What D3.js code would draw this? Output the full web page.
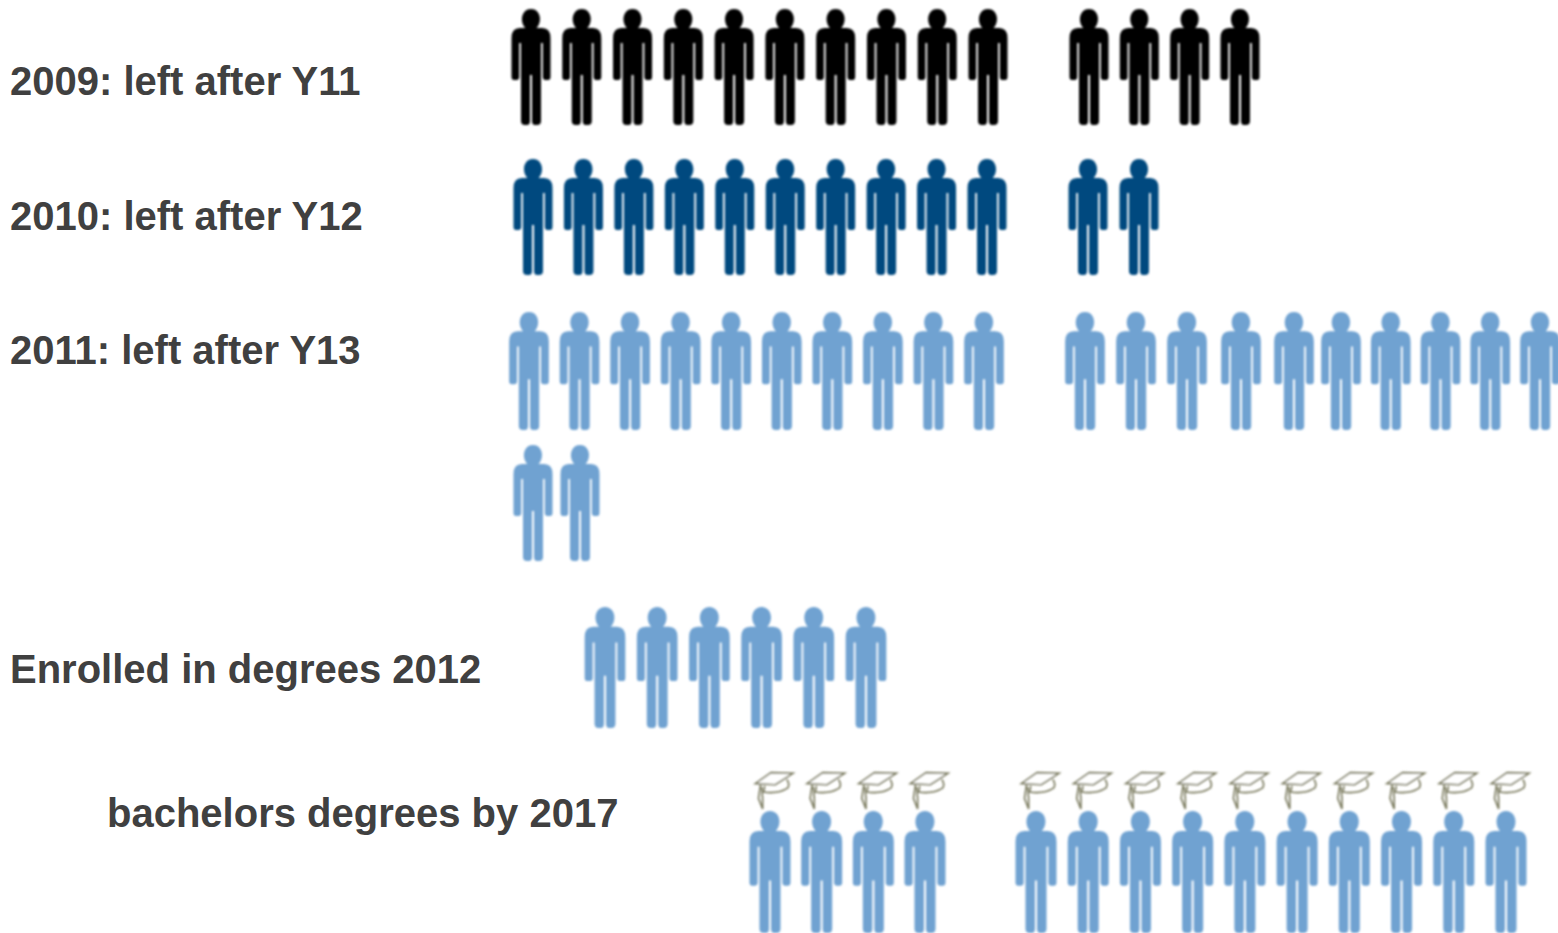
<!DOCTYPE html>
<html>
<head>
<meta charset="utf-8">
<script src="https://cdn.jsdelivr.net/npm/d3@7"></script>
<style>
  html, body { margin: 0; background: #fff; overflow: hidden; }
  text { font-family: "Liberation Sans", Arial, sans-serif; font-weight: bold; fill: #404040; }
</style>
</head>
<body>
<div id="chart"></div>
<script>
const labels = ["2009: left after Y11", "2010: left after Y12", "2011: left after Y13", "Enrolled in degrees 2012", "bachelors degrees by 2017"];
const counts = [14, 12, 22, 6, 14];
const graduated = [false, false, false, false, true];

const WIDTH = 1558;
const HEIGHT = 933;
const WRAP = 20; // row 3 runs off the page after 20 people
const colors = ["#000000", "#004a7f", "#6fa2d1", "#6fa2d1", "#6fa2d1"];

// where each row sits on the page: pixel knots for the position scales
const rowLayout = [
  { domain: [0, 9, 10, 13], range: [531, 988, 1089, 1240], top: 9, h: 116, labelX: 10, labelY: 95 },
  { domain: [0, 9, 10, 11], range: [533, 987, 1088, 1139], top: 159, h: 116, labelX: 10, labelY: 230 },
  { domain: [0, 9, 10, 12, 13, 14, 15, 19], range: [529, 984, 1085, 1187, 1241, 1294, 1341, 1540], top: 312, h: 118, labelX: 10, labelY: 364 },
  { domain: [0, 5], range: [605, 866], top: 607, h: 121, labelX: 10, labelY: 683 },
  { domain: [0, 3, 4, 13], range: [770, 925, 1036, 1506], top: 811, h: 122, labelX: 107, labelY: 827 }
];
const wrapLayout = { domain: [0, 1], range: [533, 580], top: 445, h: 116 };

const BODY_H = 116;

// person outline, centred on x = 0, head top at y = 0
function personPath() {
  const p = d3.path();
  // head and neck
  p.moveTo(-4.5, 20);
  p.bezierCurveTo(-12, 14, -10, 0, 0, 0);
  p.bezierCurveTo(10, 0, 12, 14, 4.5, 20);
  p.closePath();
  // shoulders, arms, torso, legs
  p.moveTo(-11, 19);
  p.lineTo(11, 19);
  p.quadraticCurveTo(19.5, 19, 19.5, 29);
  p.lineTo(19.5, 68);
  p.quadraticCurveTo(19.5, 71, 17, 71);
  p.lineTo(14.5, 71);
  p.quadraticCurveTo(11.8, 71, 11.8, 68);
  p.lineTo(11.8, 34);
  p.lineTo(10, 34);
  p.lineTo(10, 112);
  p.quadraticCurveTo(10, 116, 6, 116);
  p.lineTo(4, 116);
  p.quadraticCurveTo(1, 116, 1, 112);
  p.lineTo(1, 66);
  p.lineTo(-1, 66);
  p.lineTo(-1, 112);
  p.quadraticCurveTo(-1, 116, -4, 116);
  p.lineTo(-6, 116);
  p.quadraticCurveTo(-10, 116, -10, 112);
  p.lineTo(-10, 34);
  p.lineTo(-11.8, 34);
  p.lineTo(-11.8, 68);
  p.quadraticCurveTo(-11.8, 71, -14.5, 71);
  p.lineTo(-17, 71);
  p.quadraticCurveTo(-19.5, 71, -19.5, 68);
  p.lineTo(-19.5, 29);
  p.quadraticCurveTo(-19.5, 19, -11, 19);
  p.closePath();
  return p.toString();
}

const svg = d3.select("#chart")
  .append("svg")
  .attr("width", WIDTH)
  .attr("height", HEIGHT);

// the source picture is a slightly soft bitmap
const blur = svg.append("defs").append("filter").attr("id", "soft");
blur.append("feGaussianBlur").attr("stdDeviation", 0.8);

const body = personPath();

function drawCap(g) {
  const cap = g.append("g")
    .attr("fill", "none")
    .attr("stroke", "#77775a")
    .attr("stroke-width", 1.5);
  cap.append("path")
    .attr("d", "M-14,-26 L1,-36.5 L22,-36 L5,-25 Z")
    .attr("fill", "#fff");
  cap.append("path").attr("d", "M-5,-24 L-6,-18 Q8,-16 17,-22 Q19,-26 16,-30");
  cap.append("path").attr("d", "M-9,-25 L-11,-12 L-7,-2 L-7,-12 L-8,-23");
}

labels.forEach((label, r) => {
  const layout = rowLayout[r];

  svg.append("text")
    .attr("x", layout.labelX)
    .attr("y", layout.labelY)
    .attr("font-size", 40)
    .text(label);

  const x = d3.scaleLinear().domain(layout.domain).range(layout.range);
  const wrapX = d3.scaleLinear().domain(wrapLayout.domain).range(wrapLayout.range);

  const people = svg.append("g")
    .attr("filter", "url(#soft)")
    .selectAll("g")
    .data(d3.range(counts[r]))
    .enter()
    .append("g")
    .attr("transform", i => {
      if (i >= WRAP) {
        return `translate(${wrapX(i - WRAP)}, ${wrapLayout.top}) scale(1, ${wrapLayout.h / BODY_H})`;
      }
      return `translate(${x(i)}, ${layout.top}) scale(${layout.h / BODY_H * 0.98 + 0.02}, ${layout.h / BODY_H})`;
    });

  people.append("path")
    .attr("d", body)
    .attr("fill", colors[r]);

  if (graduated[r]) {
    people.call(drawCap);
  }
});
</script>
</body>
</html>
